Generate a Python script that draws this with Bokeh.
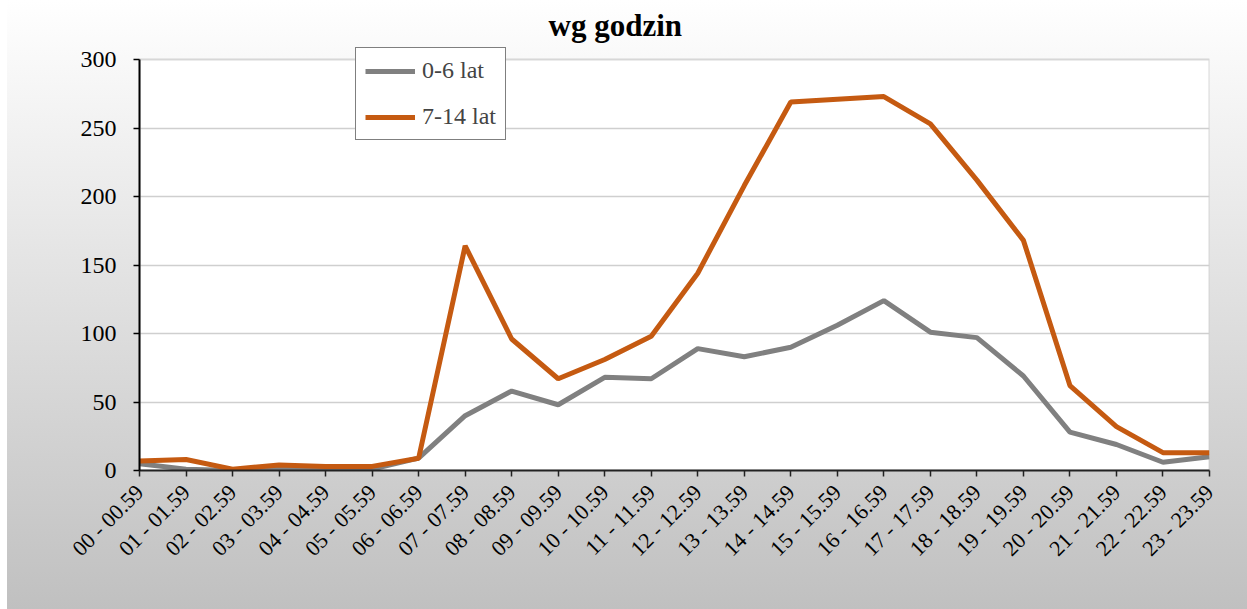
import math
from bokeh.plotting import figure
from bokeh.models import Range1d, FixedTicker, Legend, LegendItem, BoxAnnotation
from bokeh.embed import file_html
from bokeh.resources import INLINE

hours = ["00 - 00.59", "01 - 01.59", "02 - 02.59", "03 - 03.59", "04 - 04.59",
         "05 - 05.59", "06 - 06.59", "07 - 07.59", "08 - 08.59", "09 - 09.59",
         "10 - 10.59", "11 - 11.59", "12 - 12.59", "13 - 13.59", "14 - 14.59",
         "15 - 15.59", "16 - 16.59", "17 - 17.59", "18 - 18.59", "19 - 19.59",
         "20 - 20.59", "21 - 21.59", "22 - 22.59", "23 - 23.59"]
age_0_6 = [5, 1, 0, 1, 1, 1, 9, 40, 58, 48, 68, 67, 89, 83, 90, 106, 124, 101,
           97, 69, 28, 19, 6, 10]
age_7_14 = [7, 8, 1, 4, 3, 3, 9, 164, 96, 67, 81, 98, 144, 208, 269, 271, 273,
            253, 212, 168, 62, 32, 13, 13]
y_ticks = [0, 50, 100, 150, 200, 250, 300]
y_max = 300
series_names = ["0-6 lat", "7-14 lat"]
series_colors = ["#808080", "#C55A11"]
title_text = "wg godzin"

FONT = "Liberation Serif"
xs = list(range(len(hours)))

p = figure(width=1247, height=609, output_backend="svg", toolbar_location=None,
           x_range=Range1d(0, len(hours) - 1), y_range=Range1d(0, 311),
           min_border_left=139, min_border_right=38, min_border_top=44,
           min_border_bottom=139)
p.styles = {"background": "linear-gradient(to right, #ffffff 7px, transparent 7px), "
                          "linear-gradient(#ffffff, #c0c0c0)"}
p.border_fill_alpha = 0
p.background_fill_alpha = 0
p.outline_line_color = None

# plot area (white, grey frame) up to the top tick value
area = BoxAnnotation(left=0, right=len(hours) - 1, bottom=0, top=y_max,
                     fill_color="white", fill_alpha=1,
                     line_color="#808080", line_width=2, level="image")
p.add_layout(area)

r1 = p.line(xs, age_0_6, line_color=series_colors[0], line_width=5)
r2 = p.line(xs, age_7_14, line_color=series_colors[1], line_width=5)

p.xgrid.grid_line_color = None
p.ygrid.ticker = FixedTicker(ticks=y_ticks[1:-1])
p.ygrid.grid_line_color = "#cfcfcf"
p.ygrid.grid_line_width = 1.5

p.xaxis.ticker = FixedTicker(ticks=xs)
p.xaxis.major_label_overrides = {i: h for i, h in enumerate(hours)}
p.xaxis.major_label_orientation = math.pi / 4
p.xaxis.major_label_text_font = FONT
p.xaxis.major_label_text_font_size = "22px"
p.xaxis.major_label_text_color = "black"
p.xaxis.major_label_standoff = 12
p.xaxis.minor_tick_line_color = None
p.xaxis.major_tick_in = 0
p.xaxis.major_tick_out = 6
p.xaxis.axis_line_color = "#222222"
p.xaxis.axis_line_width = 2
p.xaxis.major_tick_line_color = "#222222"
p.xaxis.major_tick_line_width = 1.5

p.yaxis.ticker = FixedTicker(ticks=y_ticks)
p.yaxis.bounds = (0, y_max)
p.yaxis.major_label_text_font = FONT
p.yaxis.major_label_text_font_size = "24px"
p.yaxis.major_label_text_color = "black"
p.yaxis.major_label_standoff = 17
p.yaxis.minor_tick_line_color = None
p.yaxis.major_tick_in = 0
p.yaxis.major_tick_out = 6
p.yaxis.axis_line_color = "black"
p.yaxis.axis_line_width = 2
p.yaxis.major_tick_line_color = "black"
p.yaxis.major_tick_line_width = 1.5

legend = Legend(items=[LegendItem(label=series_names[0], renderers=[r1]),
                       LegendItem(label=series_names[1], renderers=[r2])],
                location=(216, 330), orientation="vertical")
legend.border_line_color = "black"
legend.border_line_width = 1
legend.background_fill_color = "white"
legend.background_fill_alpha = 1
legend.label_text_font = FONT
legend.label_text_font_size = "24px"
legend.glyph_width = 50
legend.glyph_height = 20
legend.label_height = 20
legend.label_standoff = 7
legend.spacing = 19
legend.padding = 9
legend.margin = 0
p.add_layout(legend, "center")

p.title.text = title_text
p.title.text_font = FONT
p.title.text_font_style = "bold"
p.title.text_font_size = "31px"
p.title.text_color = "black"
p.title.align = "left"
p.title.offset = 409
p.title.standoff = 4

open("out.html", "w").write(file_html(p, INLINE))
